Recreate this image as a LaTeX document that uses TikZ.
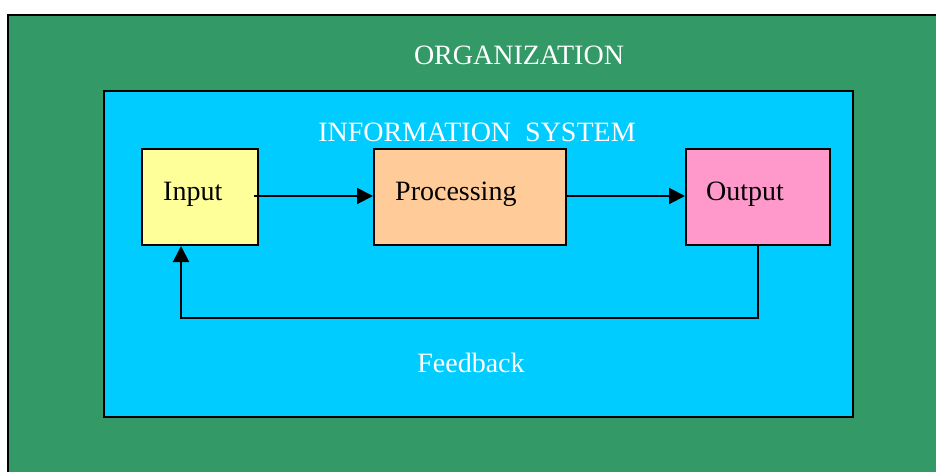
\documentclass[tikz,border=0pt]{standalone}
\usepackage{fontspec}
\setmainfont{Liberation Serif}
\usetikzlibrary{arrows.meta}
\definecolor{orggreen}{HTML}{339966}
\definecolor{sysblue}{HTML}{00CCFF}
\definecolor{inyellow}{HTML}{FFFF99}
\definecolor{procorange}{HTML}{FFCC99}
\definecolor{outpink}{HTML}{FF99CC}
\tikzset{
  boxed/.style={draw=black, line width=2pt, rectangle, inner sep=0pt},
  stage/.style={boxed, minimum height=96pt},
  txt/.style={font=\fontsize{28}{34}\selectfont, inner sep=0pt},
  title/.style={txt, text=white, anchor=base},
  lbl/.style={txt, text=black, anchor=base west},
  flow/.style={line width=2pt, -{Triangle[length=16pt,width=16pt]}}
}
\begin{document}
\begin{tikzpicture}[x=1pt,y=-1pt]
\useasboundingbox (0,0) rectangle (936,471);
\clip (0,0) rectangle (936,471);
% organization and information system containers
\node[boxed, fill=orggreen, minimum width=942pt, minimum height=465pt] (org) at (479,247.5) {};
\node[boxed, fill=sysblue, minimum width=749pt, minimum height=326pt] (sys) at (478.5,254) {};
\node[title] (orgtitle) at (519,64) {ORGANIZATION};
\node[title] (systitle) at (477,141) {INFORMATION~~SYSTEM};
% stages
\node[stage, fill=inyellow, minimum width=116pt] (input) at (200,197) {};
\node[stage, fill=procorange, minimum width=192pt] (proc) at (470,197) {};
\node[stage, fill=outpink, minimum width=144pt] (output) at (758,197) {};
\node[lbl] (inputtxt) at (163,200) {Input};
\node[lbl] (proctxt) at (395,200) {Processing};
\node[lbl] (outputtxt) at (706,200) {Output};
% flow between stages
\draw[flow] ([xshift=-5pt,yshift=1pt]input.east) -- ([yshift=1pt]proc.west);
\draw[flow] ([yshift=1pt]proc.east) -- ([yshift=1pt]output.west);
% feedback loop
\coordinate (fbleft) at (181,318);
\draw[flow] (output.south) |- (fbleft) -- (fbleft |- input.south);
\node[title] (fbtitle) at (471,372) {Feedback};
\end{tikzpicture}
\end{document}
